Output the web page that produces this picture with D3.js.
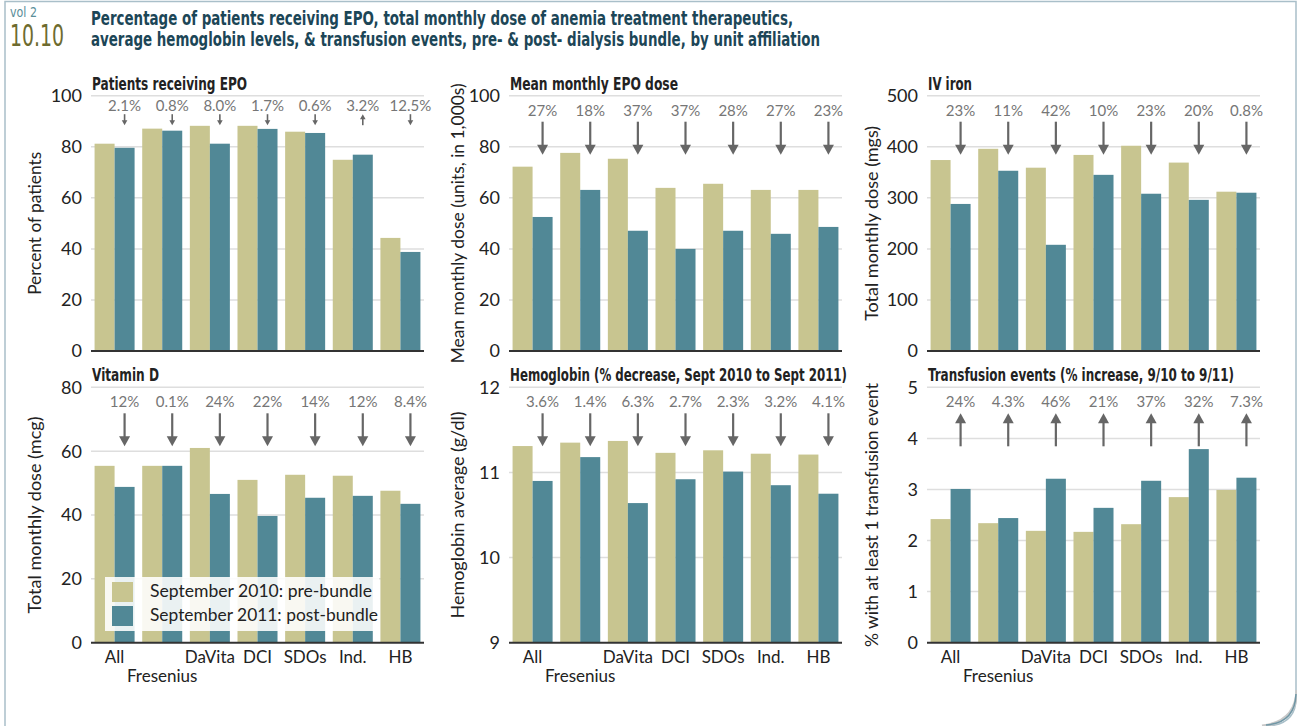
<!DOCTYPE html>
<html>
<head>
<meta charset="utf-8">
<script src="https://cdn.jsdelivr.net/npm/d3@7"></script>
<style>
  body { margin: 0; background: #fff; }
  svg { display: block; }
  .cond { font-family: "Liberation Sans Narrow", "DejaVu Sans Condensed", "Roboto", sans-serif; font-weight: bold; }
  .light { font-family: "Liberation Sans Narrow", "DejaVu Sans Condensed", "Roboto", sans-serif; font-weight: normal; }
  .reg { font-family: "Lato", "Open Sans", sans-serif; }
</style>
</head>
<body>
<svg id="chart" width="1297" height="726"></svg>
<script>
// unit affiliations
const categories = ["All", "Fresenius", "DaVita", "DCI", "SDOs", "Ind.", "HB"];
const seriesNames = ["September 2010: pre-bundle", "September 2011: post-bundle"];

// Patients receiving EPO (%)
const epoPatients2010 = [81.2, 87.1, 88.2, 88.2, 85.9, 74.9, 44.3];
const epoPatients2011 = [79.6, 86.3, 81.2, 87.0, 85.4, 76.9, 38.8];
const epoPatientsChange = ["2.1%", "0.8%", "8.0%", "1.7%", "0.6%", "3.2%", "12.5%"];
const epoPatientsDir = ["down", "down", "down", "down", "down", "up", "down"];

// Mean monthly EPO dose (units, in 1,000s)
const epoDose2010 = [72.2, 77.6, 75.3, 63.9, 65.5, 63.1, 63.1];
const epoDose2011 = [52.5, 63.1, 47.1, 40.0, 47.1, 45.9, 48.6];
const epoDoseChange = ["27%", "18%", "37%", "37%", "28%", "27%", "23%"];
const epoDoseDir = ["down", "down", "down", "down", "down", "down", "down"];

// IV iron (mgs)
const ironDose2010 = [374, 396, 359, 384, 402, 369, 312];
const ironDose2011 = [288, 353, 208, 345, 308, 296, 310];
const ironChange = ["23%", "11%", "42%", "10%", "23%", "20%", "0.8%"];
const ironDir = ["down", "down", "down", "down", "down", "down", "down"];

// Vitamin D (mcg)
const vitD2010 = [55.4, 55.4, 61.0, 51.0, 52.6, 52.3, 47.6];
const vitD2011 = [48.8, 55.4, 46.6, 39.7, 45.4, 46.0, 43.5];
const vitDChange = ["12%", "0.1%", "24%", "22%", "14%", "12%", "8.4%"];
const vitDDir = ["down", "down", "down", "down", "down", "down", "down"];

// Hemoglobin average (g/dl)
const hgb2010 = [11.31, 11.35, 11.37, 11.23, 11.26, 11.22, 11.21];
const hgb2011 = [10.90, 11.18, 10.64, 10.92, 11.01, 10.85, 10.75];
const hgbChange = ["3.6%", "1.4%", "6.3%", "2.7%", "2.3%", "3.2%", "4.1%"];
const hgbDir = ["down", "down", "down", "down", "down", "down", "down"];

// Transfusion events (% with at least 1)
const transf2010 = [2.42, 2.34, 2.19, 2.17, 2.32, 2.85, 2.99];
const transf2011 = [3.01, 2.44, 3.21, 2.64, 3.17, 3.79, 3.23];
const transfChange = ["24%", "4.3%", "46%", "21%", "37%", "32%", "7.3%"];
const transfDir = ["up", "up", "up", "up", "up", "up", "up"];

const colors = ["#c8c590", "#518896"];

const panels = [
    { col: 0, row: 0, title: "Patients receiving EPO", titleW: 155, yTitle: "Percent of patients", yTitleW: 143,
      domain: [0, 100], ticks: [0, 20, 40, 60, 80, 100], pre: epoPatients2010, post: epoPatients2011,
      change: epoPatientsChange, dir: epoPatientsDir, small: true },
    { col: 1, row: 0, title: "Mean monthly EPO dose", titleW: 168, yTitle: "Mean monthly dose (units, in 1,000s)", yTitleW: 280,
      domain: [0, 100], ticks: [0, 20, 40, 60, 80, 100], pre: epoDose2010, post: epoDose2011,
      change: epoDoseChange, dir: epoDoseDir },
    { col: 2, row: 0, title: "IV iron", titleW: 44, yTitle: "Total monthly dose (mgs)", yTitleW: 195,
      domain: [0, 500], ticks: [0, 100, 200, 300, 400, 500], pre: ironDose2010, post: ironDose2011,
      change: ironChange, dir: ironDir },
    { col: 0, row: 1, title: "Vitamin D", titleW: 67, yTitle: "Total monthly dose (mcg)", yTitleW: 197,
      domain: [0, 80], ticks: [0, 20, 40, 60, 80], pre: vitD2010, post: vitD2011,
      change: vitDChange, dir: vitDDir, legend: true },
    { col: 1, row: 1, title: "Hemoglobin (% decrease, Sept 2010 to Sept 2011)", titleW: 337, yTitle: "Hemoglobin average (g/dl)", yTitleW: 207,
      domain: [9, 12], ticks: [9, 10, 11, 12], pre: hgb2010, post: hgb2011,
      change: hgbChange, dir: hgbDir },
    { col: 2, row: 1, title: "Transfusion events (% increase, 9/10 to 9/11)", titleW: 306, yTitle: "% with at least 1 transfusion event", yTitleW: 264,
      domain: [0, 5], ticks: [0, 1, 2, 3, 4, 5], pre: transf2010, post: transf2011,
      change: transfChange, dir: transfDir }
];

const colLeft = [91, 509, 927];
const colYTitle = [35, 458, 872];
const plotW = 333;
const rowTop = [95.7, 387.3];
const rowBottom = [351, 642.7];

const svg = d3.select("#chart");

// frame
svg.append("path")
    .attr("d", "M5,726 L5,1.5 L1296,1.5 L1296,698 Q1296,724 1268,726")
    .attr("fill", "none")
    .attr("stroke", "#a9bfc9")
    .attr("stroke-width", 1.5);
svg.append("path")
    .attr("d", "M1297,690 Q1296,722 1262,726")
    .attr("fill", "none")
    .attr("stroke", "#c9c9c9")
    .attr("stroke-width", 3);
svg.append("path")
    .attr("d", "M1296,694 Q1295,723 1266,725")
    .attr("fill", "none")
    .attr("stroke", "#6f97a6")
    .attr("stroke-width", 1.5);

// header
svg.append("text").attr("class", "light").attr("x", 10).attr("y", 17)
    .attr("font-size", 14).attr("fill", "#5a8e99")
    .attr("textLength", 27).attr("lengthAdjust", "spacingAndGlyphs")
    .text("vol 2");
svg.append("text").attr("class", "light").attr("x", 10).attr("y", 46)
    .attr("font-size", 31).attr("fill", "#6e6b2f")
    .attr("textLength", 54).attr("lengthAdjust", "spacingAndGlyphs")
    .text("10.10");
const titleLines = [
    { text: "Percentage of patients receiving EPO, total monthly dose of anemia treatment therapeutics,", y: 25, w: 702 },
    { text: "average hemoglobin levels, & transfusion events, pre- & post- dialysis bundle, by unit affiliation", y: 46, w: 729 }
];
svg.selectAll("text.mainTitle")
    .data(titleLines)
    .enter().append("text")
    .attr("class", "cond mainTitle")
    .attr("x", 91)
    .attr("y", d => d.y)
    .attr("font-size", 20)
    .attr("fill", "#1c4657")
    .attr("textLength", d => d.w)
    .attr("lengthAdjust", "spacingAndGlyphs")
    .text(d => d.text);

panels.forEach(p => drawPanel(p));

function drawPanel(p) {
    const left = colLeft[p.col];
    const top = rowTop[p.row];
    const bottom = rowBottom[p.row];

    const x = d3.scaleBand()
        .domain(categories)
        .range([left, left + plotW])
        .paddingInner(0.16)
        .paddingOuter(0.075);
    const xs = d3.scaleBand()
        .domain([0, 1])
        .range([0, x.bandwidth()]);
    const y = d3.scaleLinear()
        .domain(p.domain)
        .range([bottom, top]);

    const g = svg.append("g");

    // gridlines
    g.append("g")
        .selectAll("line")
        .data(p.ticks.slice(1))
        .enter().append("line")
        .attr("x1", left)
        .attr("x2", left + plotW)
        .attr("y1", d => y(d))
        .attr("y2", d => y(d))
        .attr("stroke", "#dedede")
        .attr("stroke-width", 1.5);

    // tick labels
    g.append("g")
        .selectAll("text")
        .data(p.ticks)
        .enter().append("text")
        .attr("class", "reg")
        .attr("x", left - 9)
        .attr("y", d => y(d))
        .attr("dy", "0.36em")
        .attr("text-anchor", "end")
        .attr("font-size", 18)
        .attr("fill", "#222")
        .text(d => d);

    // bars
    const rows = categories.map((c, i) => ({ cat: c, vals: [p.pre[i], p.post[i]] }));
    g.append("g")
        .selectAll("g")
        .data(rows)
        .enter().append("g")
        .attr("transform", d => `translate(${x(d.cat)},0)`)
        .selectAll("rect")
        .data(d => d.vals)
        .enter().append("rect")
        .attr("x", (d, i) => xs(i))
        .attr("width", xs.bandwidth())
        .attr("y", d => y(d))
        .attr("height", d => y(p.domain[0]) - y(d))
        .attr("fill", (d, i) => colors[i]);

    // baseline
    g.append("line")
        .attr("x1", left)
        .attr("x2", left + plotW)
        .attr("y1", bottom)
        .attr("y2", bottom)
        .attr("stroke", "#333")
        .attr("stroke-width", 2);

    // panel title
    g.append("text")
        .attr("class", "cond")
        .attr("x", left + 1)
        .attr("y", top - 6)
        .attr("font-size", 17)
        .attr("fill", "#222")
        .attr("textLength", p.titleW)
        .attr("lengthAdjust", "spacingAndGlyphs")
        .text(p.title);

    // y-axis title
    const ycen = (top + bottom) / 2;
    g.append("text")
        .attr("class", "reg")
        .attr("transform", `translate(${colYTitle[p.col]},${ycen}) rotate(-90)`)
        .attr("text-anchor", "middle")
        .attr("dy", "0.35em")
        .attr("font-size", 17)
        .attr("fill", "#222")
        .attr("textLength", p.yTitleW)
        .attr("lengthAdjust", "spacingAndGlyphs")
        .text(p.yTitle);

    // change labels and arrows (over the post-bundle bar)
    const ax = c => x(c) + xs(1) + xs.bandwidth() / 2;
    const labelY = p.small ? top + 15 : top + 20;
    const a1 = p.small ? top + 18.5 : top + 26;
    const a2 = p.small ? top + 29.5 : top + 59;
    const head = p.small ? 5 : 10;
    const hw = p.small ? 2.8 : 5.5;

    g.append("g")
        .selectAll("text")
        .data(categories)
        .enter().append("text")
        .attr("class", "reg")
        .attr("x", ax)
        .attr("y", labelY)
        .attr("text-anchor", "middle")
        .attr("font-size", 15)
        .attr("fill", "#767676")
        .text((d, i) => p.change[i]);

    const arrows = g.append("g")
        .selectAll("g")
        .data(categories)
        .enter().append("g");
    arrows.append("line")
        .attr("x1", ax)
        .attr("x2", ax)
        .attr("y1", (d, i) => p.dir[i] === "down" ? a1 : a1 + head - 1)
        .attr("y2", (d, i) => p.dir[i] === "down" ? a2 - head + 1 : a2)
        .attr("stroke", "#666")
        .attr("stroke-width", p.small ? 1.6 : 2.2);
    arrows.append("path")
        .attr("d", (d, i) => {
            const cx = ax(d);
            if (p.dir[i] === "down") {
                return `M${cx - hw},${a2 - head} L${cx + hw},${a2 - head} L${cx},${a2} Z`;
            }
            return `M${cx - hw},${a1 + head} L${cx + hw},${a1 + head} L${cx},${a1} Z`;
        })
        .attr("fill", "#666");

    // category labels, bottom row only
    if (p.row === 1) {
        g.append("g")
            .selectAll("text")
            .data(categories)
            .enter().append("text")
            .attr("class", "reg")
            .attr("x", d => x(d) + x.bandwidth() / 2)
            .attr("y", (d, i) => i === 1 ? bottom + 39 : bottom + 20)
            .attr("text-anchor", "middle")
            .attr("font-size", 17)
            .attr("fill", "#222")
            .text(d => d);
    }

    if (p.legend) {
        const lg = g.append("g").attr("transform", "translate(105,577)");
        lg.append("rect")
            .attr("width", 274)
            .attr("height", 54)
            .attr("fill", "#fff")
            .attr("fill-opacity", 0.88);
        const item = lg.selectAll("g")
            .data(seriesNames)
            .enter().append("g")
            .attr("transform", (d, i) => `translate(7,${5 + i * 24})`);
        item.append("rect")
            .attr("width", 21)
            .attr("height", 20)
            .attr("fill", (d, i) => colors[i]);
        item.append("text")
            .attr("class", "reg")
            .attr("x", 38)
            .attr("y", 15)
            .attr("font-size", 17)
            .attr("fill", "#222")
            .attr("textLength", (d, i) => i === 0 ? 222 : 228)
            .attr("lengthAdjust", "spacingAndGlyphs")
            .text(d => d);
    }
}
</script>
</body>
</html>
